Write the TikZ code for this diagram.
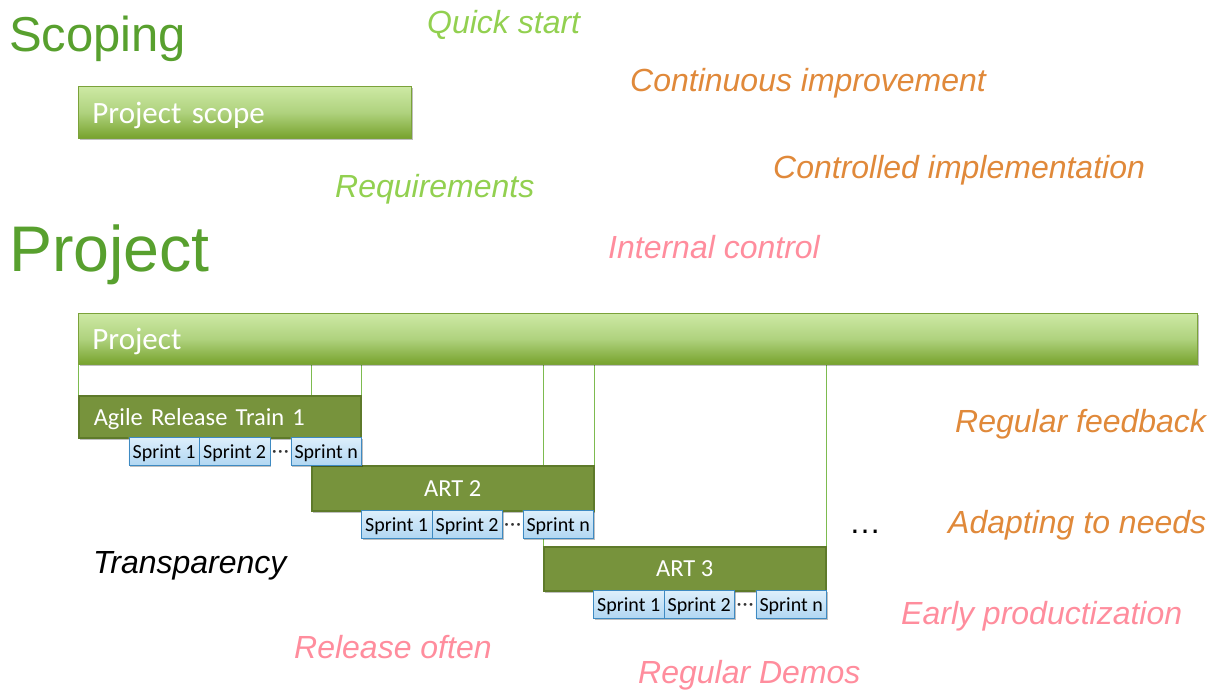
\documentclass[tikz,border=0pt]{standalone}
\usepackage{fontspec}
\setmainfont{Liberation Sans}
\newfontfamily\boxfont{Carlito}
\usetikzlibrary{shadows,calc}
\definecolor{titlegreen}{HTML}{58A02E}
\definecolor{lightgreen}{HTML}{92D050}
\definecolor{orangetxt}{HTML}{E0893A}
\definecolor{pinktxt}{HTML}{FF8D9D}
\definecolor{gtop}{HTML}{CDE9A4}
\definecolor{gmid}{HTML}{AFD27E}
\definecolor{gbot}{HTML}{77A22C}
\definecolor{gedge}{HTML}{7BA23A}
\definecolor{artfill}{HTML}{77933C}
\definecolor{artedge}{HTML}{5E7A2A}
\definecolor{stop}{HTML}{DDEFFB}
\definecolor{sbot}{HTML}{B2D7F2}
\definecolor{sedge}{HTML}{3E8AC2}
\definecolor{linkgreen}{HTML}{7DBB4F}
\pgfdeclarelayer{bg}
\pgfsetlayers{bg,main}
\tikzset{
  softshadow/.style={drop shadow={shadow xshift=1.2pt, shadow yshift=-2pt, opacity=0.25, fill=black}},
  greenbar/.style={rectangle, anchor=north west, inner ysep=0pt, inner xsep=14pt, draw=gedge, line width=0.8pt,
    top color=gtop, bottom color=gbot, middle color=gmid, softshadow,
    font=\boxfont\fontsize{31}{31}\selectfont, text=white, text depth=0pt, align=left},
  artbox/.style={rectangle, anchor=north west, inner sep=0pt, draw=artedge, line width=1.5pt,
    fill=artfill, softshadow, minimum width=282pt,
    font=\boxfont\fontsize{24.5}{24.5}\selectfont, text=white, text depth=0pt},
  sprintbox/.style={rectangle, anchor=north west, inner sep=0pt, draw=sedge, line width=0.9pt,
    top color=stop, bottom color=sbot, softshadow, minimum width=70.5pt, minimum height=27.5pt,
    font=\boxfont\fontsize{20}{20}\selectfont, text=black, text depth=0pt},
  sdots/.style={inner sep=0pt, font=\boxfont\fontsize{20}{20}\selectfont, text=black!80,
    text height=13pt, text depth=0pt},
  link/.style={draw=linkgreen, line width=0.9pt},
  heading/.style={anchor=base west, inner sep=0pt, text=titlegreen},
  remark/.style={anchor=base west, inner sep=0pt, font=\fontsize{32}{32}\selectfont\itshape}
}
\begin{document}
\begin{tikzpicture}[x=1pt, y=-1pt]
\useasboundingbox (0,0) rectangle (1217,693);

% section headings
\node[heading, font=\fontsize{49}{49}\selectfont] (hscope) at (9,52) {Scoping};
\node[heading, font=\fontsize{64.5}{64.5}\selectfont] (hproj) at (9,271) {Project};

% scoping and project bars
\node[greenbar, minimum width=333pt, minimum height=52pt, text width=305pt] (scope) at (78,86) {Project scope};
\node[greenbar, minimum width=1119pt, minimum height=51pt, text width=1091pt] (proj) at (78,313) {Project};

% release trains
\node[artbox, minimum height=42pt, inner xsep=15pt, text width=252pt, align=left] (art1) at (78,395) {Agile Release Train 1};
\node[artbox, minimum height=45pt] (art2) at (311,465) {ART 2};
\node[artbox, minimum height=44pt] (art3) at (543,546) {ART 3};

% sprints of train 1
\node[sprintbox] (a1s1) at (128.5,437) {Sprint 1};
\node[sprintbox] (a1s2) at (199,437) {Sprint 2};
\node[sprintbox] (a1sn) at (290.5,437) {Sprint n};
\node[sdots] (a1d) at ($(a1s2.east)!0.5!(a1sn.west)$) {·\kern1pt·\kern1pt·};

% sprints of train 2
\node[sprintbox] (a2s1) at (361,510) {Sprint 1};
\node[sprintbox] (a2s2) at (431.5,510) {Sprint 2};
\node[sprintbox] (a2sn) at (522.5,510) {Sprint n};
\node[sdots] (a2d) at ($(a2s2.east)!0.5!(a2sn.west)$) {·\kern1pt·\kern1pt·};

% sprints of train 3
\node[sprintbox] (a3s1) at (593,590) {Sprint 1};
\node[sprintbox] (a3s2) at (663.5,590) {Sprint 2};
\node[sprintbox] (a3sn) at (755.5,590) {Sprint n};
\node[sdots] (a3d) at ($(a3s2.east)!0.5!(a3sn.west)$) {·\kern1pt·\kern1pt·};

% links from the project bar down to each train
\begin{pgfonlayer}{bg}
\draw[link] (art1.north west |- proj.south) -- (art1.north west);
\draw[link] (art1.north east |- proj.south) -- (art1.north east);
\draw[link] (art2.north west |- proj.south) -- (art2.north west);
\draw[link] (art2.north east |- proj.south) -- (art2.north east);
\draw[link] (art3.north west |- proj.south) -- (art3.north west);
\draw[link] (art3.north east |- proj.south) -- (art3.north east);
\end{pgfonlayer}

\node[anchor=base west, inner sep=0pt, font=\fontsize{32}{32}\selectfont] (more) at (849,533) {…};

% principles
\node[remark, text=lightgreen] (quick) at (427,34) {Quick start};
\node[remark, text=orangetxt] (contimp) at (630,92) {Continuous improvement};
\node[remark, text=orangetxt] (ctrlimpl) at (773,178) {Controlled implementation};
\node[remark, text=lightgreen] (req) at (335,197) {Requirements};
\node[remark, text=pinktxt] (intctl) at (608,258) {Internal control};
\node[remark, text=orangetxt] (feedback) at (955,432) {Regular feedback};
\node[remark, text=orangetxt] (adapt) at (948,533) {Adapting to needs};
\node[remark, text=black] (transp) at (93,573) {Transparency};
\node[remark, text=pinktxt] (early) at (901,624) {Early productization};
\node[remark, text=pinktxt] (release) at (294,658) {Release often};
\node[remark, text=pinktxt] (demos) at (638,683) {Regular Demos};
\end{tikzpicture}
\end{document}
